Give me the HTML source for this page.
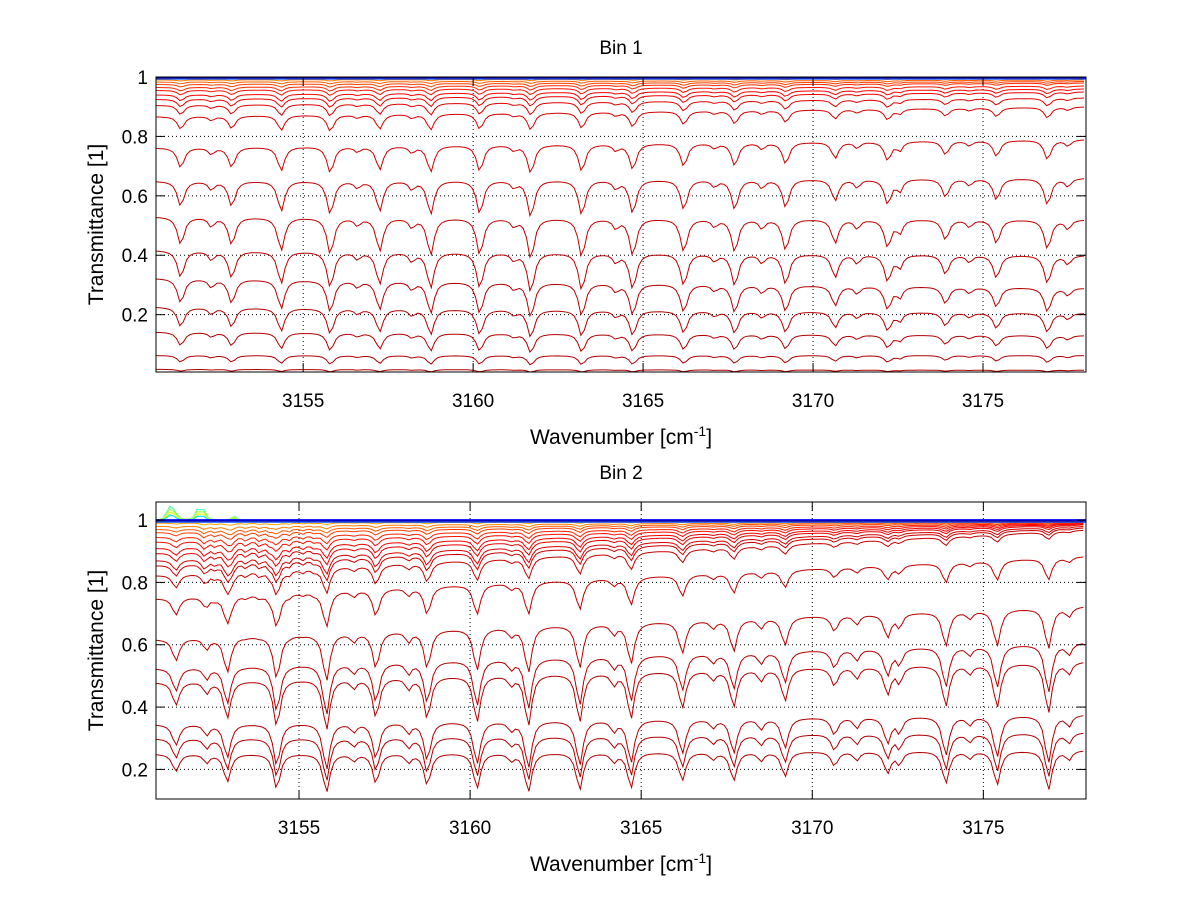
<!DOCTYPE html>
<html><head><meta charset="utf-8"><title>Transmittance bins</title>
<style>
body{margin:0;background:#fff;}
svg{display:block;font-family:"Liberation Sans",sans-serif;}
</style></head>
<body>
<svg id="chart" width="1200" height="901" viewBox="0 0 1200 901" xmlns="http://www.w3.org/2000/svg">
<rect x="0" y="0" width="1200" height="901" fill="#fff"/>
<g id="p1"></g>
<g id="p2"></g>
</svg>
<script>
// ---- data ----
const xTicks = [3155, 3160, 3165, 3170, 3175];
const yTicks1 = [0.2, 0.4, 0.6, 0.8, 1];
const yTicks2 = [0.2, 0.4, 0.6, 0.8, 1];
// main absorption line centers (cm^-1) and strengths
const lineCenters = [3151.4,3152.9,3154.35,3155.8,3157.25,3158.75,3160.2,3161.7,3163.2,3164.7,3166.2,3167.7,3169.2,3170.65,3172.2,3173.9,3175.4,3176.9];
const strengths1 = [0.75,0.75,0.9,1.0,0.9,1.0,1.0,1.1,1.05,1.0,0.9,0.9,0.85,0.65,0.75,0.55,0.65,0.8];
const strengths2 = [0.5,0.8,1.0,1.1,0.85,0.9,1.0,1.1,1.05,1.0,0.8,0.8,0.7,0.4,0.6,0.9,0.95,1.1];
const weakCenters = [3152.3,3156.6,3158.2,3161.2,3164.2,3167.1,3168.5,3171.3,3172.55,3174.6,3177.5];
const weakStrengths = [0.25,0.2,0.25,0.2,0.25,0.2,0.25,0.25,0.35,0.2,0.25];
// dense lines seen in bin 2 (upper traces)
const denseCenters = [3152.2,3152.55,3153.05,3153.45,3153.85,3154.15,3154.7,3155.1,3155.45];
const denseStrengths = [0.9,0.8,1.0,0.8,0.9,0.7,0.8,0.6,0.5];
// per-trace baselines (left edge, right edge)
const base1Left  = [0.016,0.063,0.142,0.226,0.323,0.417,0.53,0.65,0.762,0.867,0.905,0.925,0.94,0.955,0.965,0.975,0.983,0.99,0.995];
const base1Right = [0.013,0.063,0.13,0.205,0.29,0.40,0.52,0.66,0.79,0.90,0.93,0.95,0.96,0.97,0.98,0.985,0.99,0.995,0.998];
const base2Left  = [0.25,0.30,0.345,0.48,0.525,0.618,0.749,0.823,0.855,0.871,0.894,0.91,0.93,0.945,0.96,0.97,0.98,0.99];
const base2Right = [0.262,0.32,0.377,0.547,0.608,0.724,0.884,0.968,0.975,0.98,0.985,0.988,0.99,0.992,0.994,0.996,0.997,0.998];
// bumps above unity in bin 2 (upper-left)
const bumpCenters = [3151.2,3151.35,3152.05,3152.2,3153.1];
const bumpHeights = [0.04,0.03,0.035,0.03,0.015];

const NS="http://www.w3.org/2000/svg";
function jet(t){
  const r=Math.min(Math.max(Math.min(4*t-1.5,-4*t+4.5),0),1);
  const g=Math.min(Math.max(Math.min(4*t-0.5,-4*t+3.5),0),1);
  const b=Math.min(Math.max(Math.min(4*t+0.5,-4*t+2.5),0),1);
  return `rgb(${Math.round(r*255)},${Math.round(g*255)},${Math.round(b*255)})`;
}
function mk(tag,attrs,parent){const e=document.createElementNS(NS,tag);for(const k in attrs)e.setAttribute(k,attrs[k]);parent.appendChild(e);return e;}
function lor(x,c,w){const d=(x-c)/w;return 1/(1+d*d);}

function panel(gid,cfg){
  const g=document.getElementById(gid);
  const X=v=>cfg.L+(v-cfg.xmin)/(cfg.xmax-cfg.xmin)*(cfg.R-cfg.L);
  const Y=v=>cfg.B-(v-cfg.ymin)/(cfg.ymax-cfg.ymin)*(cfg.B-cfg.T);
  const clip=mk('clipPath',{id:gid+'c'},g);
  mk('rect',{x:cfg.L,y:cfg.T,width:cfg.R-cfg.L,height:cfg.B-cfg.T},clip);
  xTicks.forEach(v=>{
    const l=mk('line',{x1:X(v),x2:X(v),y1:cfg.T,y2:cfg.B,stroke:'#000','stroke-width':1,'stroke-dasharray':'1,3'},g);
    
    
  });
  cfg.yt.forEach(v=>{
    const l=mk('line',{x1:cfg.L,x2:cfg.R,y1:Y(v),y2:Y(v),stroke:'#000','stroke-width':1,'stroke-dasharray':'1,3'},g);
    
    
  });
  const lg=mk('g',{'clip-path':`url(#${gid}c)`},g);
  const N=cfg.bl.length;
  const step=0.1;
  for(let i=0;i<N;i++){
    let pts=[];
    for(let x=cfg.xmin;x<=cfg.xmax+1e-9;x+=step){
      const f=(x-cfg.xmin)/(cfg.xmax-cfg.xmin);
      const b=cfg.bl[i]+(cfg.br[i]-cfg.bl[i])*f;
      let a=0;
      lineCenters.forEach((c,j)=>{a+=cfg.s[j]*lor(x,c,0.12);});
      weakCenters.forEach((c,j)=>{a+=weakStrengths[j]*lor(x,c,0.1);});
      if(cfg.dense){denseCenters.forEach((c,j)=>{a+=denseStrengths[j]*Math.pow(b,8)*lor(x,c,0.08);});}
      const v=b-Math.min(a,2.2)*b*(1-b)*cfg.k;
      pts.push(X(x).toFixed(1)+','+Y(v).toFixed(1));
    }
    const frac=i/(N-1);
    const t=0.955-0.22*Math.pow(frac,3)-0.02*frac;
    const pl=mk('polyline',{points:pts.join(' '),fill:'none',stroke:jet(t),'stroke-width':1},lg);
    
    
  }
  if(cfg.bumps){
    [0.45,0.55,0.62,0.35].forEach((t,k)=>{
      let pts=[];
      for(let x=cfg.xmin;x<=cfg.xmax+1e-9;x+=step){
        let v=0.998;
        bumpCenters.forEach((c,j)=>{v+=bumpHeights[j]*(1-k*0.2)*lor(x,c,0.08);});
        pts.push(X(x).toFixed(1)+','+Y(v).toFixed(1));
      }
      const pl=mk('polyline',{points:pts.join(' '),fill:'none',stroke:jet(t),'stroke-width':1.2},lg);
      
      
    });
  }
  [[1.0,0.12,2],[0.997,0.05,1.5],[0.993,0.2,1]].forEach(([v,t,w])=>{
    const l=mk('line',{x1:cfg.L,x2:cfg.R,y1:Y(v),y2:Y(v),stroke:jet(t),'stroke-width':w},lg);
    
    
  });
  const bx=mk('rect',{x:cfg.L,y:cfg.T,width:cfg.R-cfg.L,height:cfg.B-cfg.T,fill:'none',stroke:'#000','stroke-width':1},g);
  
  
  xTicks.forEach(v=>{
    mk('line',{x1:X(v),x2:X(v),y1:cfg.B,y2:cfg.B-9,stroke:'#000'},g);
    mk('line',{x1:X(v),x2:X(v),y1:cfg.T,y2:cfg.T+9,stroke:'#000'},g);
    const tx=mk('text',{x:X(v),y:cfg.B+35,'font-size':19,'text-anchor':'middle'},g);
    tx.textContent=v;
    
    
  });
  cfg.yt.forEach(v=>{
    mk('line',{x1:cfg.L,x2:cfg.L+9,y1:Y(v),y2:Y(v),stroke:'#000'},g);
    mk('line',{x1:cfg.R,x2:cfg.R-9,y1:Y(v),y2:Y(v),stroke:'#000'},g);
    const tx=mk('text',{x:cfg.L-8,y:Y(v)+7,'font-size':19,'text-anchor':'end'},g);
    tx.textContent=String(v);
    
    
  });
  const ti=mk('text',{x:(cfg.L+cfg.R)/2,y:cfg.T-23,'font-size':19,'text-anchor':'middle'},g);
  ti.textContent=cfg.title;
  
  
  const xl=mk('text',{x:(cfg.L+cfg.R)/2,y:cfg.B+72,'font-size':21,'text-anchor':'middle'},g);
  xl.innerHTML='Wavenumber [cm<tspan dy="-8" font-size="14">-1</tspan><tspan dy="8">]</tspan>';
  
  
  const cy=(cfg.T+cfg.B)/2;
  const yl=mk('text',{x:103,y:cy,'font-size':21,'text-anchor':'middle',transform:`rotate(-90 103 ${cy})`},g);
  yl.textContent='Transmittance [1]';
  
  
}
panel('p1',{L:156,R:1086,T:77,B:372,xmin:3150.67,xmax:3178.03,ymin:0.007,ymax:1.0,yt:yTicks1,bl:base1Left,br:base1Right,s:strengths1,k:0.5,dense:false,bumps:false,title:'Bin 1'});
panel('p2',{L:156,R:1086,T:502,B:799,xmin:3150.82,xmax:3178.0,ymin:0.105,ymax:1.058,yt:yTicks2,bl:base2Left,br:base2Right,s:strengths2,k:0.6,dense:true,bumps:true,title:'Bin 2'});
</script>
</body></html>
